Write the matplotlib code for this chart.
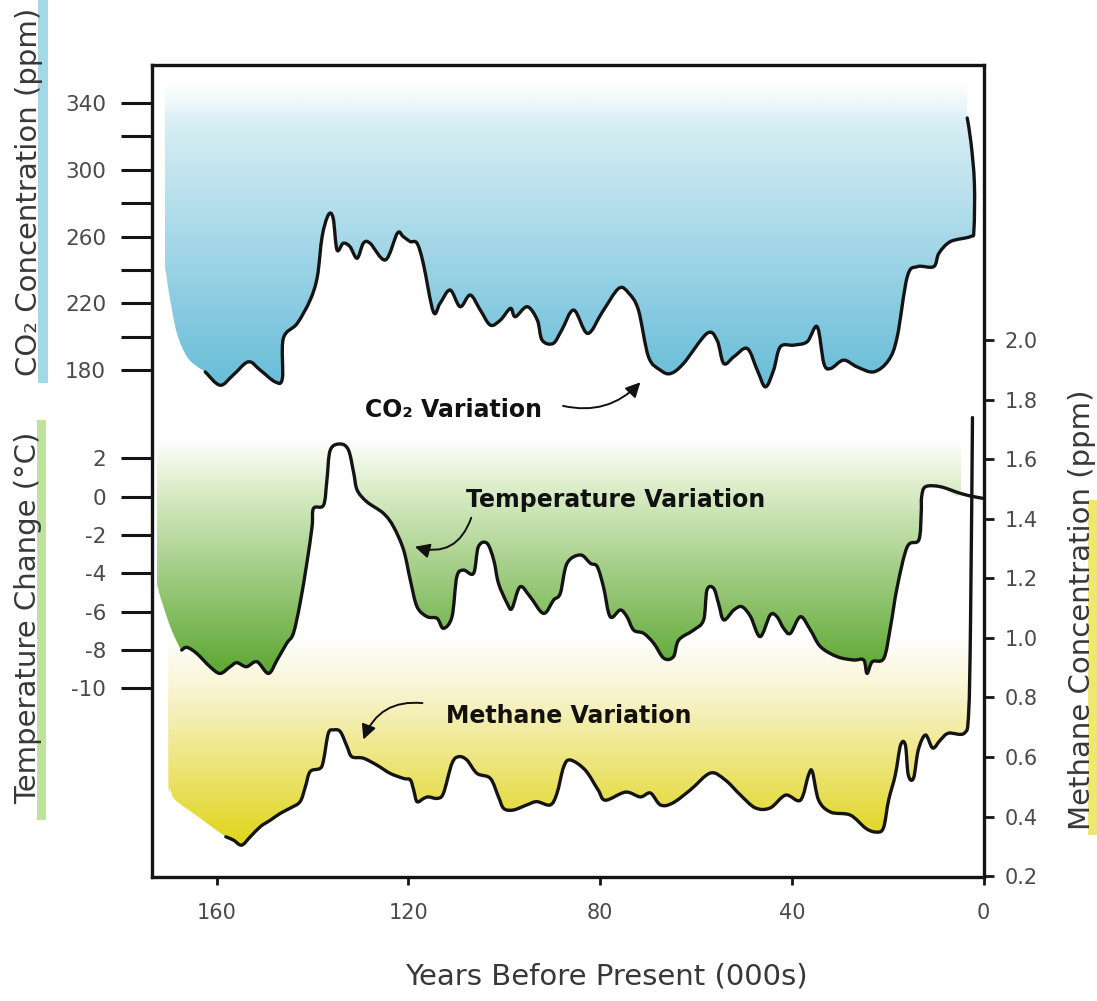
import numpy as np
import matplotlib
matplotlib.use("Agg")
import matplotlib.pyplot as plt
from matplotlib.colors import LinearSegmentedColormap
from matplotlib.patches import PathPatch, Rectangle
from matplotlib.path import Path

# ice core record, x in thousands of years before present
co2_kyr = [162.4, 159.3, 156.6, 153.4, 150.9, 147.8, 146.3, 146.1, 143.2, 140.5,
           139.0, 138.0, 136.7, 135.7, 134.9, 133.6, 132.2, 130.7, 129.4, 128.0,
           124.8, 122.3, 121.1, 119.6, 118.2, 116.9, 114.8, 113.4, 111.3, 109.2,
           107.1, 105.0, 102.9, 100.8, 98.7, 97.7, 95.2, 93.1, 92.1, 89.8,
           88.0, 85.5, 82.6, 79.5, 76.1, 74.0, 72.0, 69.9, 67.4, 65.3,
           62.6, 57.7, 55.6, 54.2, 52.1, 49.3, 47.2, 45.5, 43.8, 42.4,
           39.6, 36.8, 34.7, 33.3, 31.9, 29.2, 26.4, 22.9, 19.8, 18.0,
           15.9, 13.8, 10.4, 9.3, 6.9, 2.7, 2.0, 1.9, 2.6, 3.4]
co2_ppm = [179, 171, 177, 185, 180, 173, 175, 199, 208, 222,
           236, 260, 273, 271, 252, 256, 254, 247, 256, 256,
           246, 262, 260, 257, 256, 244, 215, 220, 228, 218,
           225, 216, 207, 210, 217, 212, 218, 210, 198, 196,
           204, 216, 202, 215, 229, 226, 216, 188, 180, 178,
           184, 202, 198, 184, 188, 193, 180, 170, 180, 194,
           195, 197, 206, 184, 181, 186, 182, 179, 186, 200,
           236, 242, 242, 250, 257, 260, 264, 292, 316, 331]

temp_kyr = [167.3, 166.2, 164.2, 161.4, 159.3, 157.2, 155.8, 153.8, 151.6, 149.2,
            147.4, 145.4, 144.0, 142.6, 141.2, 140.1, 139.8, 137.7, 137.0, 136.3,
            134.2, 132.5, 131.4, 130.7, 128.7, 125.2, 123.1, 121.0, 119.6, 118.2,
            116.1, 114.0, 112.7, 110.9, 109.9, 108.5, 106.4, 105.4, 103.6, 102.2,
            101.2, 99.4, 98.4, 96.7, 94.6, 91.8, 89.7, 88.3, 86.9, 84.1,
            82.0, 80.6, 79.3, 77.9, 75.8, 74.4, 73.0, 70.9, 68.8, 66.7,
            64.7, 63.6, 60.5, 58.4, 57.7, 56.3, 55.3, 54.2, 52.1, 50.4,
            48.6, 46.6, 44.5, 43.1, 41.7, 40.3, 38.2, 36.1, 34.0, 30.5,
            27.1, 25.0, 24.3, 23.2, 20.8, 19.4, 18.0, 15.9, 13.5, 13.0,
            12.9, 12.1, 9.0, 4.8, 2.0, 0.0]
temp_c = [-8.0, -7.86, -8.17, -8.87, -9.22, -8.87, -8.66, -8.87, -8.61, -9.22,
          -8.52, -7.65, -7.13, -5.56, -3.48, -1.57, -0.61, -0.44, 0.87, 2.43,
          2.75, 2.43, 1.22, 0.35, -0.26, -0.87, -1.57, -2.78, -4.35, -5.74,
          -6.26, -6.35, -6.87, -6.26, -4.18, -3.83, -4.0, -2.61, -2.43, -3.3,
          -4.52, -5.56, -5.83, -4.7, -5.22, -6.09, -5.39, -5.04, -3.48, -3.04,
          -3.48, -3.65, -4.7, -6.26, -5.91, -6.26, -6.96, -7.13, -7.65, -8.43,
          -8.35, -7.48, -6.96, -6.43, -4.87, -4.78, -5.56, -6.43, -5.91, -5.74,
          -6.26, -7.3, -6.17, -6.26, -6.87, -7.13, -6.26, -6.96, -7.83, -8.35,
          -8.52, -8.52, -9.22, -8.61, -8.43, -6.78, -4.7, -2.61, -2.26, -0.87,
          0.0, 0.52, 0.52, 0.17, 0.0, -0.09]

ch4_kyr = [158.1, 156.5, 154.8, 153.0, 150.9, 148.8, 146.7, 144.7, 142.6, 141.5,
           140.5, 138.4, 137.7, 136.7, 135.6, 134.2, 132.8, 131.8, 129.4, 126.6,
           123.8, 121.0, 119.6, 118.9, 118.2, 116.8, 115.8, 114.0, 112.7, 110.9,
           109.5, 107.8, 105.7, 102.9, 101.2, 100.1, 98.1, 95.3, 93.2, 90.4,
           89.0, 87.6, 86.2, 83.1, 80.4, 78.9, 74.7, 71.6, 69.5, 67.4,
           64.9, 61.2, 57.0, 53.9, 50.7, 47.6, 44.5, 41.3, 38.2, 36.5,
           35.7, 34.4, 31.9, 27.8, 24.6, 22.5, 20.9, 19.8, 18.4, 17.3,
           16.3, 15.7, 14.6, 13.6, 12.1, 10.6, 9.0, 7.3, 4.0, 3.1,
           2.7, 2.3]
ch4_ppm = [0.332, 0.321, 0.304, 0.332, 0.366, 0.388, 0.411, 0.428, 0.45, 0.5,
           0.551, 0.562, 0.59, 0.68, 0.691, 0.685, 0.635, 0.601, 0.596, 0.573,
           0.545, 0.528, 0.523, 0.489, 0.45, 0.461, 0.466, 0.461, 0.478, 0.579,
           0.601, 0.59, 0.545, 0.528, 0.466, 0.427, 0.422, 0.439, 0.45, 0.439,
           0.478, 0.567, 0.59, 0.556, 0.489, 0.455, 0.482, 0.466, 0.479, 0.439,
           0.445, 0.489, 0.546, 0.523, 0.472, 0.429, 0.429, 0.472, 0.455, 0.54,
           0.55, 0.455, 0.415, 0.405, 0.361, 0.348, 0.361, 0.455, 0.54, 0.64,
           0.64, 0.54, 0.529, 0.624, 0.674, 0.63, 0.657, 0.68, 0.68, 0.748,
           1.06, 1.74]

# rounded left edges of the shaded areas (from top down to the curve start)
co2_edge_kyr = [170.8, 170.8, 170.5, 169.7, 168.3, 166.2, 164.0]
co2_edge_ppm = [352, 252, 237, 222, 202, 188, 182]
temp_edge_kyr = [172.5, 172.5, 172.2, 171.1, 169.7, 168.3]
temp_edge_c = [3.0, -3.8, -4.8, -5.74, -6.78, -7.57]
ch4_edge_kyr = [170.1, 170.1, 169.6, 168.6, 163.5]
ch4_edge_ppm = [1.0, 0.53, 0.49, 0.455, 0.395]

x_ticks = [160, 120, 80, 40, 0]
co2_ticks = [180, 200, 220, 240, 260, 280, 300, 320, 340]
co2_labels = ['180', '', '220', '', '260', '', '300', '', '340']
temp_ticks = [2, 0, -2, -4, -6, -8, -10]
temp_labels = ['2', '0', '-2', '-4', '-6', '-8', '-10']
ch4_ticks = [0.2, 0.4, 0.6, 0.8, 1.0, 1.2, 1.4, 1.6, 1.8, 2.0]
ch4_labels = ['0.2', '0.4', '0.6', '0.8', '1.0', '1.2', '1.4', '1.6', '1.8', '2.0']

W, H = 1097, 1001
LINE = '#141414'
TICKC = '#4a4a4a'


def smooth_path(xs, ys, closed=False):
    # hand-drawn look: cubic Bezier segments through the recorded points
    p = np.column_stack([xs, ys]).astype(float)
    n = len(p)
    verts = [p[0]]
    codes = [Path.MOVETO]
    for i in range(n - 1):
        p0 = p[i - 1] if i > 0 else p[i]
        p3 = p[i + 2] if i + 2 < n else p[i + 1]
        verts += [p[i] + (p[i + 1] - p0) / 6, p[i + 1] - (p3 - p[i]) / 6, p[i + 1]]
        codes += [Path.CURVE4] * 3
    if closed:
        verts.append(p[0])
        codes.append(Path.CLOSEPOLY)
    return Path(verts, codes)


def shade(ax, xs, ys, fade_top, full_at, stops):
    # gradient from white (fade_top) to full colour (full_at), clipped to the area
    patch = PathPatch(smooth_path(xs, ys, closed=True), fc='none', ec='none')
    ax.add_patch(patch)
    ymin, ymax = min(ys), max(ys)
    yy = np.linspace(ymax, ymin, 400)
    frac = np.clip((fade_top - yy) / (fade_top - full_at), 0, 1).reshape(-1, 1)
    cmap = LinearSegmentedColormap.from_list('g', stops)
    im = ax.imshow(frac, extent=[min(xs), max(xs), ymin, ymax], cmap=cmap,
                   vmin=0, vmax=1, aspect='auto', origin='upper', zorder=1,
                   interpolation='bilinear')
    im.set_clip_path(patch)


def trace(ax, xs, ys):
    ax.add_patch(PathPatch(smooth_path(xs, ys), fill=False, ec=LINE, lw=2.4,
                           joinstyle='round', capstyle='round', zorder=3))


fig = plt.figure(figsize=(W / 100, H / 100), dpi=100)
rect = [152 / W, 1 - 877 / H, (983.5 - 152) / W, (877 - 65) / H]
ax_m = fig.add_axes(rect)
ax_t = fig.add_axes(rect, sharex=ax_m)
ax_c = fig.add_axes(rect, sharex=ax_m)
for a in (ax_t, ax_c):
    a.patch.set_visible(False)

# methane (bottom layer)
cut = next(i for i, v in enumerate(ch4_ppm) if v > 1.0)
x_cross = ch4_kyr[cut - 1] + (1.0 - ch4_ppm[cut - 1]) * (ch4_kyr[cut] - ch4_kyr[cut - 1]) / (ch4_ppm[cut] - ch4_ppm[cut - 1])
shade(ax_m, ch4_edge_kyr + ch4_kyr[:cut] + [x_cross],
      ch4_edge_ppm + ch4_ppm[:cut] + [1.0], 1.0, 0.31,
      [(0, '#ffffff'), (0.3, '#f7f2c8'), (1, '#e0d51c')])
trace(ax_m, ch4_kyr, ch4_ppm)

# temperature
keep = [i for i, k in enumerate(temp_kyr) if k >= 4.8]
tx = [temp_kyr[i] for i in keep]
ty = [temp_c[i] for i in keep]
shade(ax_t, temp_edge_kyr + tx + [tx[-1]], temp_edge_c + ty + [3.0], 3.0, -9.3,
      [(0, '#ffffff'), (0.2, '#ddeecb'), (1, '#5ca731')])
trace(ax_t, temp_kyr, temp_c)

# CO2
shade(ax_c, co2_edge_kyr + co2_kyr + [co2_kyr[-1]], co2_edge_ppm + co2_ppm + [352],
      352, 175, [(0, '#ffffff'), (0.15, '#d6edf4'), (1, '#6bbed9')])
trace(ax_c, co2_kyr, co2_ppm)

ax_m.set_xlim(173.5, 0)
ax_c.set_ylim(-123.4, 362.7)
ax_t.set_ylim(-19.84, 22.52)
ax_m.set_ylim(0.197, 2.924)

for a in (ax_m, ax_t):
    for s in a.spines.values():
        s.set_visible(False)
for s in ax_c.spines.values():
    s.set_linewidth(2.4)
    s.set_color(LINE)

ax_c.set_xticks(x_ticks, [str(v) for v in x_ticks])
ax_c.tick_params(axis='x', direction='out', length=6, width=2, pad=13,
                 labelsize=15, labelcolor=TICKC, color=LINE)
for a in (ax_m, ax_t):
    a.tick_params(axis='x', bottom=False, labelbottom=False)

ax_c.set_yticks(co2_ticks, co2_labels)
ax_t.set_yticks(temp_ticks, temp_labels)
for a in (ax_c, ax_t):
    a.tick_params(axis='y', direction='out', length=22, width=2.2, pad=11,
                  labelsize=15.5, labelcolor=TICKC, color=LINE)

ax_m.yaxis.tick_right()
ax_m.set_yticks(ch4_ticks, ch4_labels)
ax_m.tick_params(axis='y', direction='out', length=7, width=2, pad=8,
                 labelsize=15, labelcolor=TICKC, color=LINE)

# series annotations
bold = dict(fontsize=17, fontweight='bold', color='#111111', ha='center', va='center')
arrow = dict(arrowstyle='-|>', color='#111111', lw=1.4, mutation_scale=22)
ax_c.text(110.6, 156, 'CO₂ Variation', zorder=6, **bold)
ax_c.annotate('', xy=(71.2, 174), xytext=(88.3, 159), zorder=6,
              arrowprops=dict(connectionstyle='arc3,rad=0.3', **arrow))
ax_t.text(76.8, -0.18, 'Temperature Variation', zorder=6, **bold)
ax_t.annotate('', xy=(119.2, -2.57), xytext=(106.7, -0.96), zorder=6,
              arrowprops=dict(connectionstyle='arc3,rad=-0.5', **arrow))
ax_m.text(86.6, 0.738, 'Methane Variation', zorder=6, **bold)
ax_m.annotate('', xy=(129.6, 0.65), xytext=(116.5, 0.78), zorder=6,
              arrowprops=dict(connectionstyle='arc3,rad=0.4', **arrow))

# coloured strips behind the axis titles
fig.add_artist(Rectangle((38 / W, 1 - 383 / H), 10 / W, 383 / H, transform=fig.transFigure,
                         fc='#a3d8e7', ec='none', zorder=0))
fig.add_artist(Rectangle((37 / W, 1 - 820 / H), 9 / W, 400 / H, transform=fig.transFigure,
                         fc='#bfe29c', ec='none', zorder=0))
fig.add_artist(Rectangle((1088 / W, 1 - 835 / H), 9 / W, 335 / H, transform=fig.transFigure,
                         fc='#f0e772', ec='none', zorder=0))

lab = dict(fontsize=21, color='#383838', ha='center', va='center', zorder=2)
fig.text(29 / W, 1 - 192 / H, 'CO₂ Concentration (ppm)', rotation=90, **lab)
fig.text(28 / W, 1 - 618 / H, 'Temperature Change (°C)', rotation=90, **lab)
fig.text(1082 / W, 1 - 610 / H, 'Methane Concentration (ppm)', rotation=90, **lab)
fig.text(606 / W, 1 - 977 / H, 'Years Before Present (000s)', **lab)

fig.savefig('out.png', dpi=100)
